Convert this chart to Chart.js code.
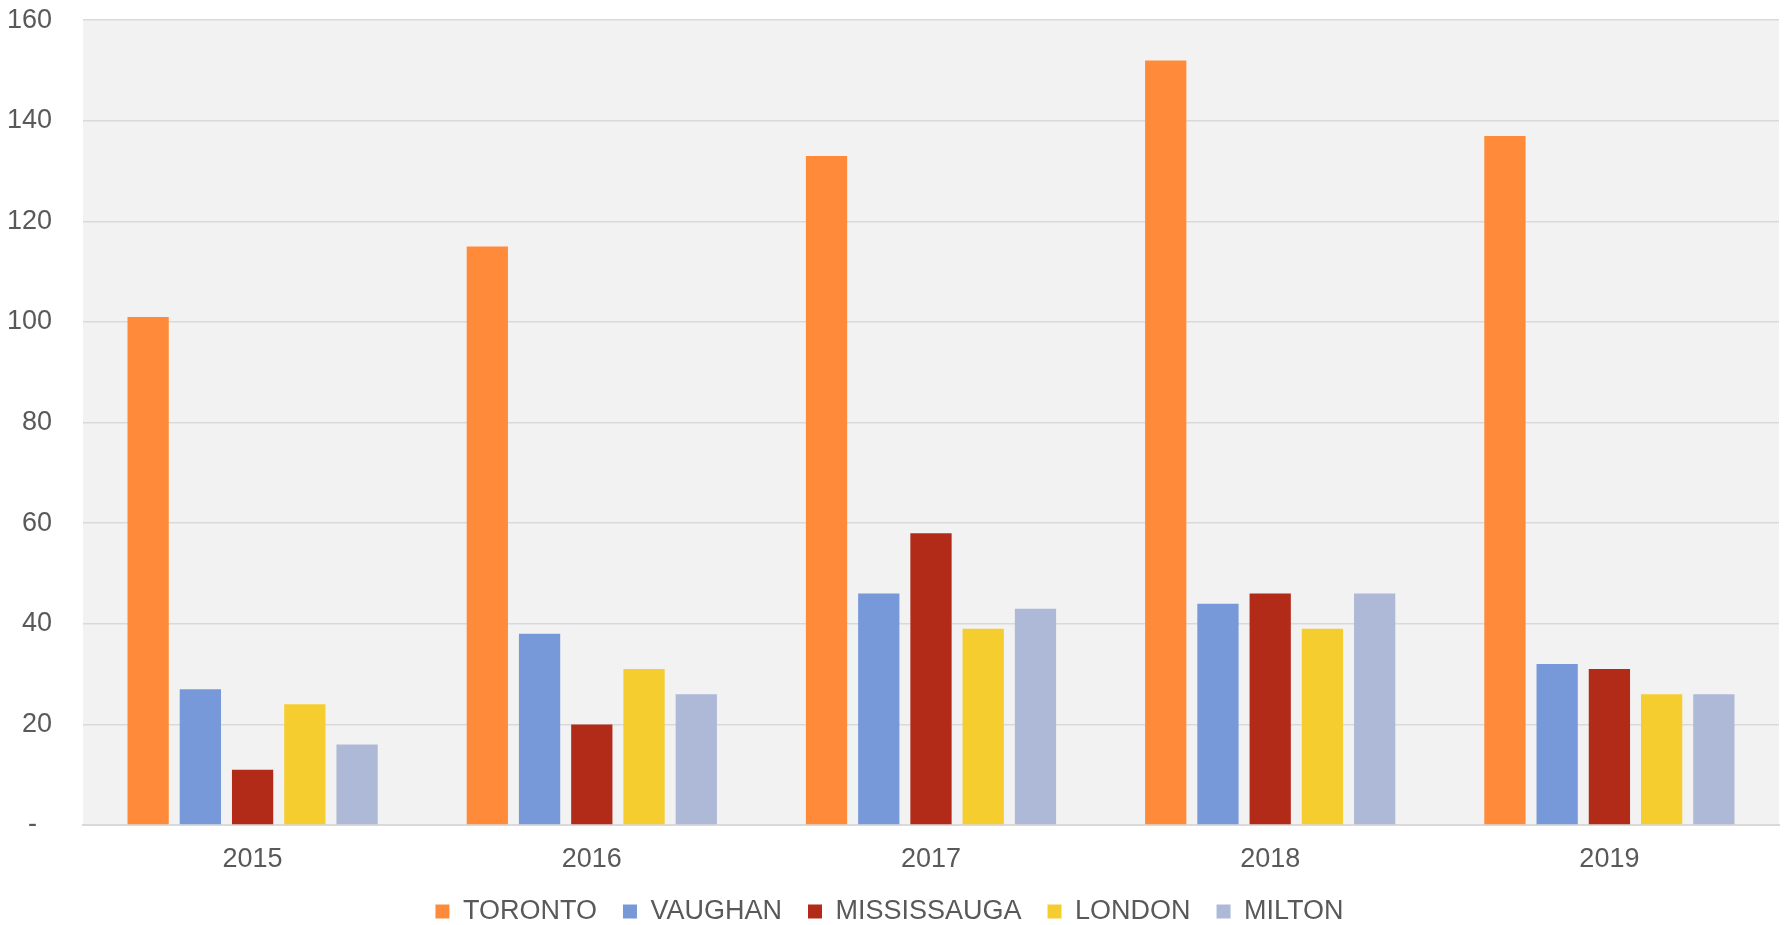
<!DOCTYPE html>
<html>
<head>
<meta charset="utf-8">
<script src="https://cdn.jsdelivr.net/npm/chart.js@4.4.1/dist/chart.umd.min.js"></script>
<style>
  html, body { margin: 0; padding: 0; background: #fff; }
  #wrap { width: 1785px; height: 925px; }
</style>
</head>
<body>
<div id="wrap"><canvas id="grafico"></canvas></div>
<script>
// dati
const anni = ["2015", "2016", "2017", "2018", "2019"];
const toronto = [101, 115, 133, 152, 137];
const vaughan = [27, 38, 46, 44, 32];
const mississauga = [11, 20, 58, 46, 31];
const london = [24, 31, 39, 39, 26];
const milton = [16, 26, 43, 46, 26];
const yTicks = [0, 20, 40, 60, 80, 100, 120, 140, 160];

const sfondoArea = {
  id: "sfondoArea",
  beforeDraw(chart) {
    const a = chart.chartArea;
    const ctx = chart.ctx;
    ctx.save();
    ctx.fillStyle = "#f2f2f2";
    ctx.fillRect(a.left, a.top, a.right - a.left, a.bottom - a.top);
    ctx.restore();
  }
};

function serie(label, data, colore) {
  return {
    label: label,
    data: data,
    backgroundColor: colore,
    borderWidth: 0,
    barPercentage: 0.79,
    categoryPercentage: 0.77
  };
}

Chart.defaults.font.family = "'Liberation Sans', Arial, sans-serif";
Chart.defaults.color = "#595959";

new Chart(document.getElementById("grafico"), {
  type: "bar",
  data: {
    labels: anni,
    datasets: [
      serie("TORONTO", toronto, "#ff8a3a"),
      serie("VAUGHAN", vaughan, "#7799d9"),
      serie("MISSISSAUGA", mississauga, "#b22b18"),
      serie("LONDON", london, "#f5cd2f"),
      serie("MILTON", milton, "#adb9d6")
    ]
  },
  options: {
    responsive: true,
    maintainAspectRatio: false,
    animation: false,
    layout: { padding: { top: 0, right: 6, bottom: -10, left: 0 } },
    plugins: {
      legend: {
        position: "bottom",
        labels: {
          font: { size: 27 },
          boxWidth: 14,
          boxHeight: 14,
          padding: 26,
          color: "#595959"
        }
      },
      tooltip: { enabled: false }
    },
    scales: {
      x: {
        grid: { display: false },
        border: { color: "#d9d9d9", width: 2 },
        ticks: { font: { size: 27 }, padding: 10 },
        afterFit(scale) { scale.height = 47; }
      },
      y: {
        min: 0,
        max: 160,
        afterBuildTicks(scale) { scale.ticks = yTicks.map(v => ({ value: v })); },
        grid: { color: "#d9d9d9", lineWidth: 1.5, drawTicks: true, tickLength: 27, tickColor: "rgba(0,0,0,0)" },
        border: { display: false },
        ticks: {
          font: { size: 27 },
          padding: 4,
          callback: v => v === 0 ? "-  " : v
        },
        afterFit(scale) { scale.width = 83; }
      }
    }
  },
  plugins: [sfondoArea]
});
</script>
</body>
</html>
